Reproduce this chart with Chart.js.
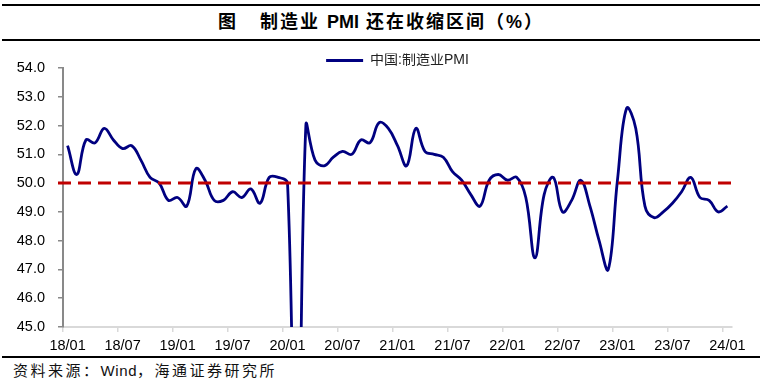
<!DOCTYPE html>
<html>
<head>
<meta charset="utf-8">
<script src="https://cdn.jsdelivr.net/npm/chart.js@4.4.1/dist/chart.umd.min.js"></script>
<style>
  html, body { margin: 0; padding: 0; background: #fff; }
  body { width: 762px; height: 384px; position: relative; overflow: hidden;
         font-family: "Liberation Sans", "Noto Sans CJK SC", sans-serif; }
  .rule { position: absolute; left: 2px; right: 2px; background: #000; }
  #r1 { top: 4px; height: 2px; }
  #r2 { top: 39px; height: 2px; }
  #r3 { top: 356px; height: 1.5px; }
  #title { position: absolute; top: 8px; left: 0; width: 762px; text-align: center;
           font-size: 18px; font-weight: bold; line-height: 28px; letter-spacing: 2px; color: #000; }
  #title .fig { margin-right: 22px; }
  #title .lat { letter-spacing: 0; }
  #src { position: absolute; top: 360px; left: 13px; font-size: 15px; line-height: 22px;
         letter-spacing: 2.5px; color: #111; }
  #src .lat { letter-spacing: 0.6px; }
  #wrap { position: absolute; top: 41px; left: 0; width: 762px; height: 315px; }
</style>
</head>
<body>
<div class="rule" id="r1"></div>
<div id="title"><span class="fig">图</span>制造业 <span class="lat">PMI</span> 还在收缩区间（%）</div>
<div class="rule" id="r2"></div>
<div id="wrap"><canvas id="chartPmi"></canvas></div>
<div class="rule" id="r3"></div>
<div id="src">资料来源：<span class="lat">Wind</span>，海通证券研究所</div>

<script>
/* ── Data ──────────────────────────────────── */
const years  = ['18', '19', '20', '21', '22', '23', '24'];
const months = ['01','02','03','04','05','06','07','08','09','10','11','12'];
const lastLabel = '24/01';
const categories = years.flatMap(y => months.map(m => y + '/' + m));
categories.length = categories.indexOf(lastLabel) + 1;

const seriesName = '中国:制造业PMI';
const pmi = [
  51.3, 50.3, 51.5, 51.4, 51.9, 51.5, 51.2, 51.3, 50.8, 50.2, 50.0, 49.4, // 2018
  49.5, 49.2, 50.5, 50.1, 49.4, 49.4, 49.7, 49.5, 49.8, 49.3, 50.2, 50.2, // 2019
  50.0, 35.7, 52.0, 50.8, 50.6, 50.9, 51.1, 51.0, 51.5, 51.4, 52.1, 51.9, // 2020
  51.3, 50.6, 51.9, 51.1, 51.0, 50.9, 50.4, 50.1, 49.6, 49.2, 50.1, 50.3, // 2021
  50.1, 50.2, 49.5, 47.4, 49.6, 50.2, 49.0, 49.4, 50.1, 49.2, 48.0, 47.0, // 2022
  50.1, 52.6, 51.9, 49.2, 48.8, 49.0, 49.3, 49.7, 50.2, 49.5, 49.4, 49.0, // 2023
  49.2                                                                      // 2024
];

const threshold = 50;
const yMin = 45, yMax = 54, yStep = 1;
const labelEvery = 6;

/* ── Styles ────────────────────────────────── */
const navy   = '#000080';
const red    = '#c00000';
const txt    = '#000';
const numFont = { family: '"Liberation Sans", Arial, sans-serif', size: 14.5 };

/* ── Plugins ───────────────────────────────── */
// dashed 50 line, a little wider than the plot area
const thresholdLine = {
  id: 'thresholdLine',
  afterDatasetsDraw(chart) {
    const { ctx, chartArea: a, scales: { y } } = chart;
    const py = y.getPixelForValue(threshold);
    ctx.save();
    ctx.strokeStyle = red;
    ctx.lineWidth = 3;
    ctx.setLineDash([13, 7]);
    ctx.beginPath();
    ctx.moveTo(a.left - 5, py);
    ctx.lineTo(a.right + 5, py);
    ctx.stroke();
    ctx.restore();
  }
};

// pull the legend down close to the plot
const legendNudge = {
  id: 'legendNudge',
  afterLayout(chart) {
    const lg = chart.legend;
    lg.top += 9.5;
    lg.bottom += 9.5;
  }
};

/* ── Chart ─────────────────────────────────── */
new Chart(document.getElementById('chartPmi'), {
  type: 'line',
  data: {
    labels: categories,
    datasets: [{
      label: seriesName,
      data: pmi,
      borderColor: navy,
      backgroundColor: navy,
      borderWidth: 2.8,
      pointRadius: 0,
      tension: 0.4,
      fill: false
    }]
  },
  options: {
    responsive: true,
    maintainAspectRatio: false,
    animation: false,
    layout: { padding: { top: 3, right: 30, bottom: 0, left: 0 } },
    plugins: {
      legend: {
        position: 'top',
        fullSize: false,
        labels: {
          usePointStyle: true,
          pointStyle: 'line',
          pointStyleWidth: 37,
          padding: 0,
          color: '#222',
          font: { family: '"Liberation Sans", "Noto Sans CJK SC", sans-serif', size: 14 }
        }
      },
      tooltip: { enabled: false }
    },
    scales: {
      x: {
        offset: true,
        afterFit: s => { s.height = 29; },
        grid: {
          offset: true,
          drawOnChartArea: false,
          tickLength: 5,
          lineWidth: 1.5,
          color: c => (c.index % labelEvery === 0 ? '#d9d9d9' : 'rgba(0,0,0,0)')
        },
        border: { color: '#d9d9d9', width: 2 },
        ticks: {
          autoSkip: false,
          maxRotation: 0,
          padding: 5,
          color: txt,
          font: numFont,
          callback: (v, i) => (i % labelEvery === 0 ? categories[i] : '')
        }
      },
      y: {
        min: yMin,
        max: yMax,
        afterFit: s => { s.width = 63; },
        grid: { drawOnChartArea: false, tickLength: 5, color: '#898989', lineWidth: 1.5 },
        border: { color: '#898989', width: 2 },
        ticks: {
          stepSize: yStep,
          padding: 13,
          color: txt,
          font: numFont,
          callback: v => Number(v).toFixed(1)
        }
      }
    }
  },
  plugins: [thresholdLine, legendNudge]
});
</script>
</body>
</html>
